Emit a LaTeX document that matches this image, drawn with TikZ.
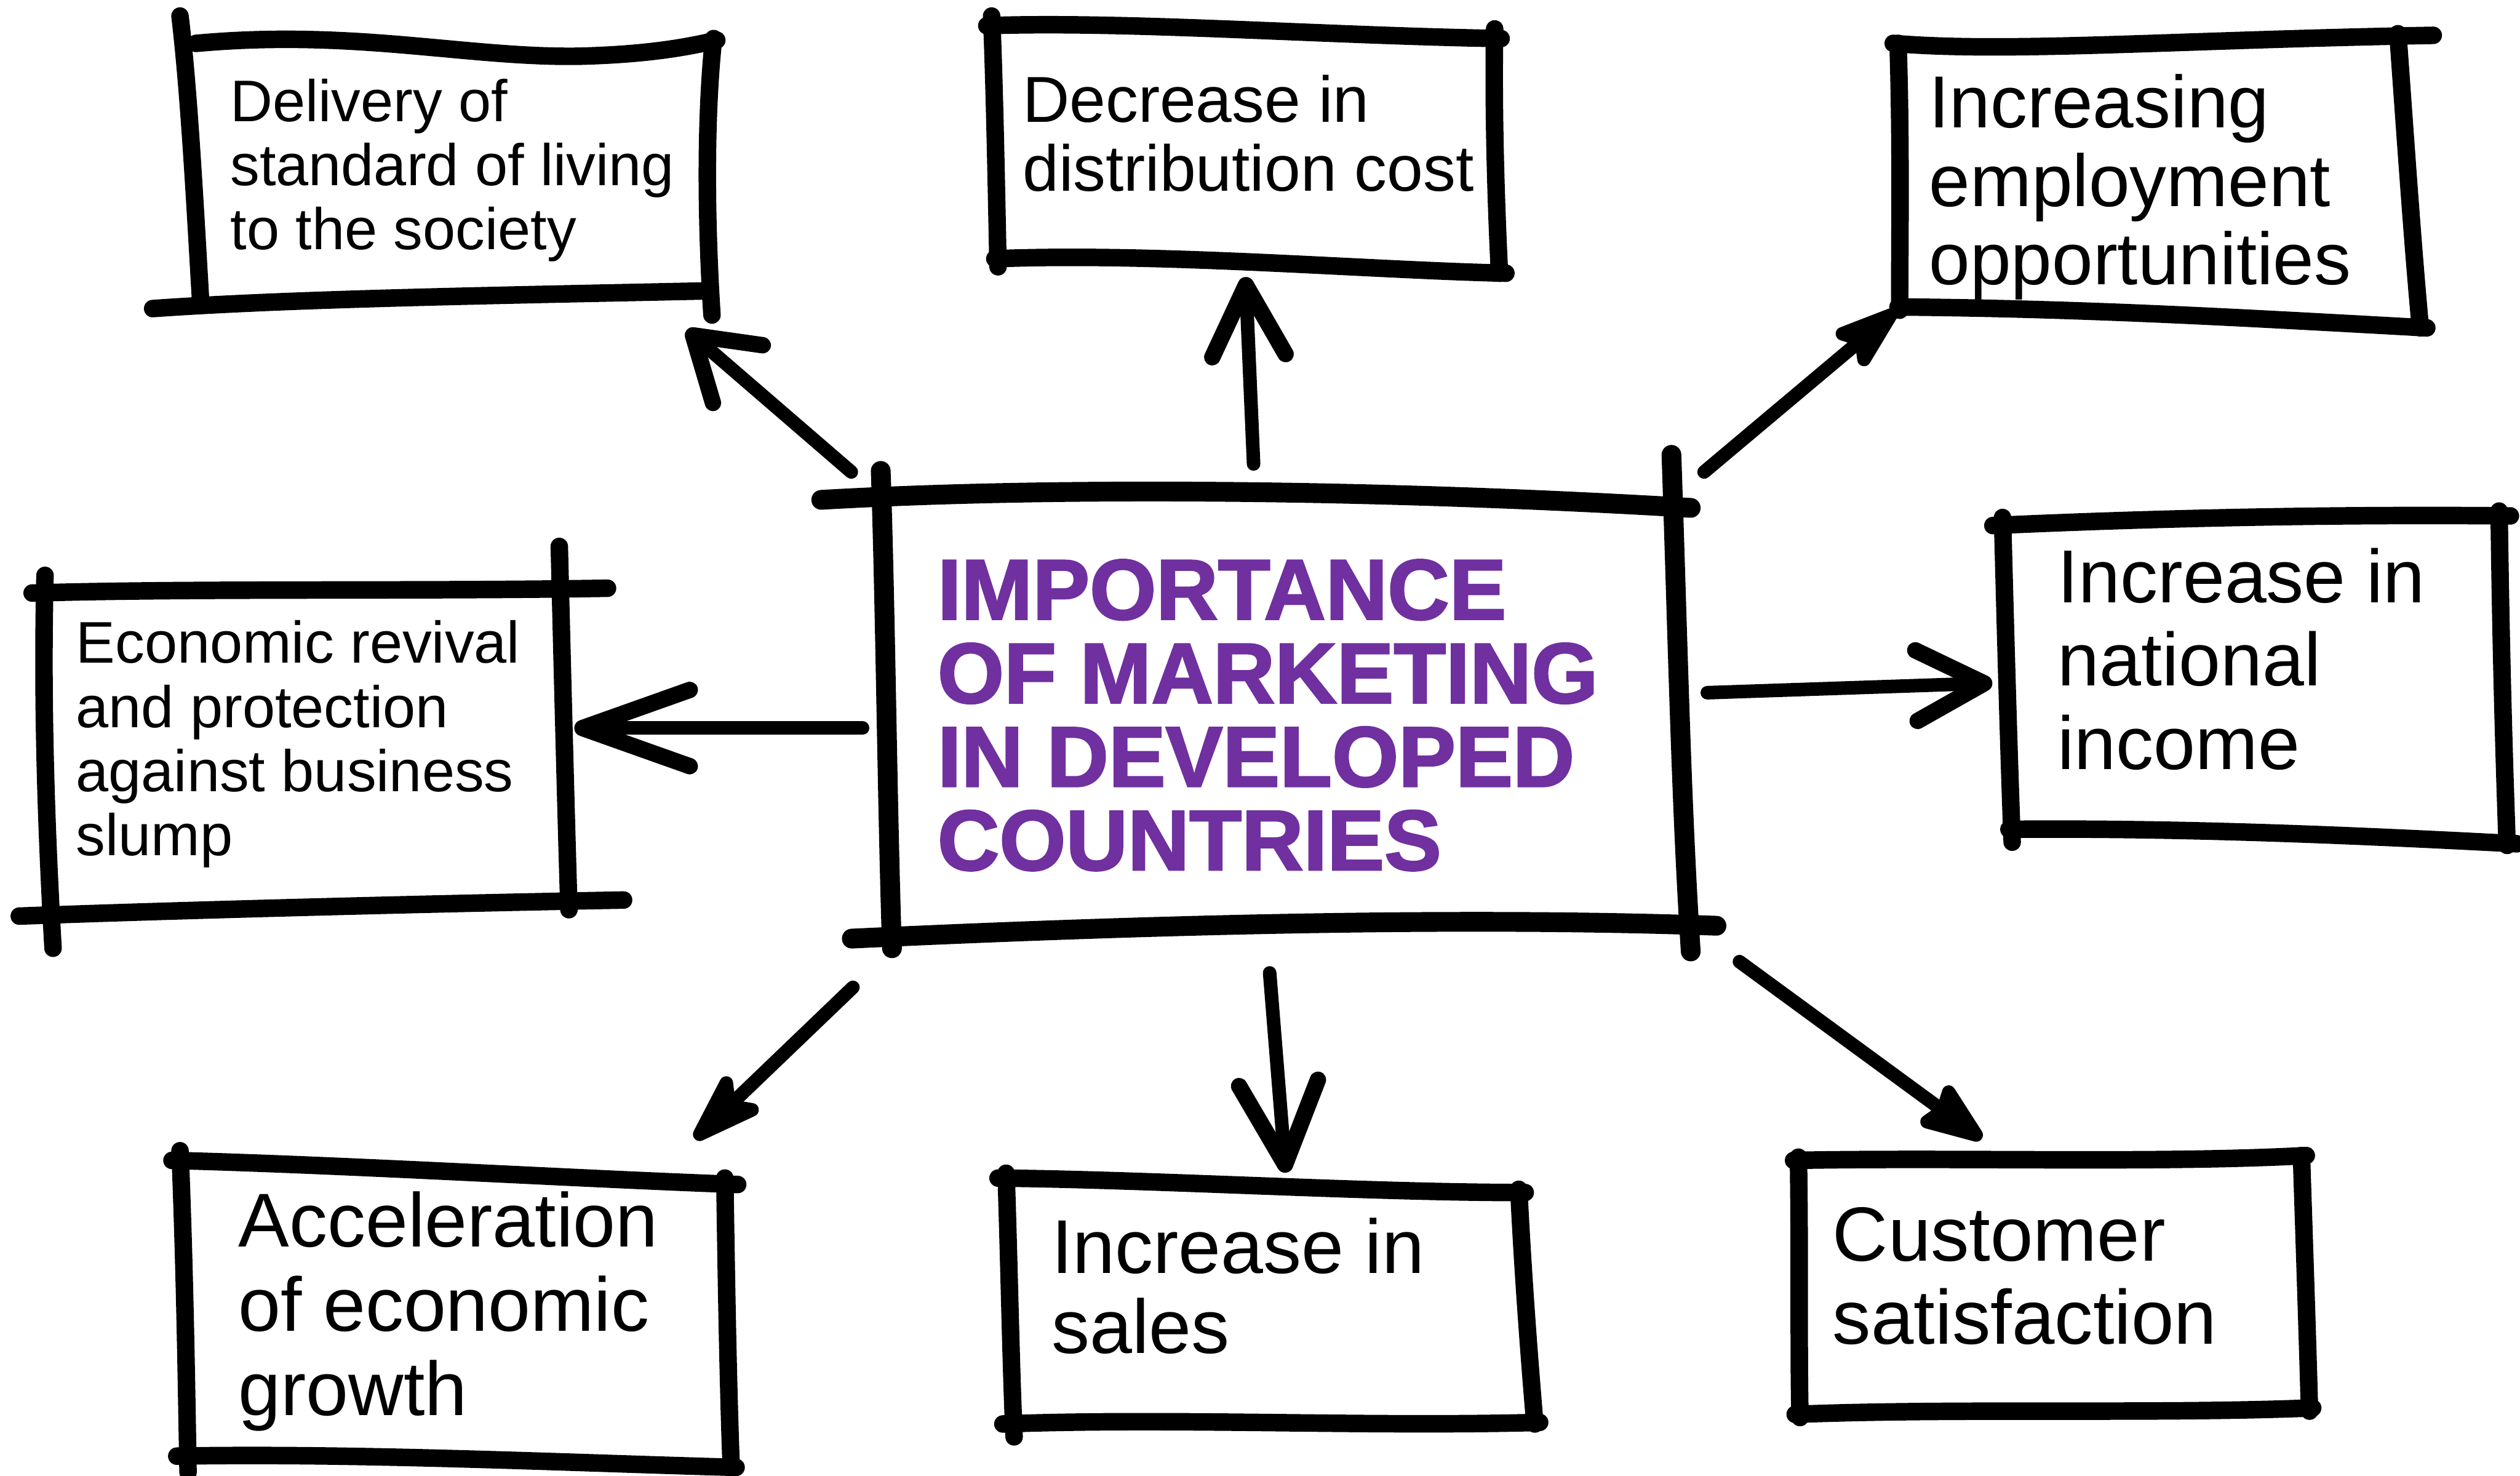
\documentclass[tikz,border=0pt]{standalone}
\usepackage{fontspec}
\setmainfont{Liberation Sans}
\newfontfamily\titlefont[FakeBold=2]{Liberation Sans Bold}
\usetikzlibrary{arrows.meta,calc}
\definecolor{titlepurple}{HTML}{7030A0}

\begin{document}
\begin{tikzpicture}[x=0.02cm,y=-0.02cm,
  pen/.style={line width=6.2pt,line cap=round,line join=round},
  cpen/.style={line width=7pt,line cap=round,line join=round},
  boxarea/.style={draw=none,rectangle,inner sep=0pt},
  txt/.style={inner sep=0pt,align=left,anchor=west,text=black},
  arr/.style={line width=4.8pt,line cap=round,line join=round}]

% canvas
\fill[white] (0,0) rectangle (1568,918);
\useasboundingbox (0,0) rectangle (1568,918);

% box areas
\node[boxarea,minimum width=6.36cm,minimum height=3.10cm] (b1) at (281,107.5) {};
\node[boxarea,minimum width=6.28cm,minimum height=3.00cm] (b2) at (776,92) {};
\node[boxarea,minimum width=6.48cm,minimum height=3.40cm] (b3) at (1342,113) {};
\node[boxarea,minimum width=6.48cm,minimum height=3.90cm] (b4) at (190,464.5) {};
\node[boxarea,minimum width=6.20cm,minimum height=3.92cm] (b5) at (1403,421) {};
\node[boxarea,minimum width=6.76cm,minimum height=3.58cm] (b6) at (284,816) {};
\node[boxarea,minimum width=6.40cm,minimum height=3.02cm] (b7) at (788,813) {};
\node[boxarea,minimum width=6.28cm,minimum height=3.16cm] (b8) at (1277,800) {};
\node[boxarea,minimum width=9.90cm,minimum height=5.36cm] (c) at (797,445) {};

% hand-drawn frames
% delivery of standard of living
\draw[pen] (112,10) .. controls (118,60) and (122,140) .. (125,190);
\draw[pen] (122,27) .. controls (220,18) and (290,36) .. (360,35) .. controls (400,34) and (425,30) .. (446,25);
\draw[pen] (444,24) .. controls (438,80) and (440,150) .. (443,196);
\draw[pen] (95,192) .. controls (180,186) and (300,184) .. (440,181);
% decrease in distribution cost
\draw[pen] (617,10) .. controls (619,60) and (620,120) .. (621,166);
\draw[pen] (614,16) .. controls (700,13) and (820,22) .. (934,24);
\draw[pen] (930,18) .. controls (929,70) and (931,130) .. (933,170);
\draw[pen] (619,161) .. controls (720,157) and (850,168) .. (937,170);
% increasing employment opportunities
\draw[pen] (1178,27) .. controls (1250,33) and (1350,25) .. (1514,22);
\draw[pen] (1181,27) .. controls (1183,90) and (1182,150) .. (1182,193);
\draw[pen] (1492,21) .. controls (1497,90) and (1501,150) .. (1506,204);
\draw[pen] (1181,191) .. controls (1300,192) and (1400,198) .. (1510,204);
% economic revival
\draw[pen] (28,358) .. controls (26,440) and (29,520) .. (33,590);
\draw[pen] (20,369) .. controls (120,366) and (260,368) .. (378,366);
\draw[pen] (348,340) .. controls (350,420) and (352,500) .. (354,566);
\draw[pen] (12,570) .. controls (120,566) and (280,562) .. (388,560);
% increase in national income
\draw[pen] (1246,322) .. controls (1248,400) and (1250,470) .. (1252,524);
\draw[pen] (1240,327) .. controls (1350,322) and (1460,320) .. (1562,321);
\draw[pen] (1555,318) .. controls (1556,400) and (1558,470) .. (1560,526);
\draw[pen] (1250,516) .. controls (1360,515) and (1470,520) .. (1566,525);
% acceleration of economic growth
\draw[pen] (112,716) .. controls (115,790) and (116,860) .. (117,916);
\draw[pen] (107,722) .. controls (220,725) and (350,733) .. (459,737);
\draw[pen] (451,733) .. controls (452,800) and (453,860) .. (455,914);
\draw[pen] (110,906) .. controls (220,904) and (350,910) .. (458,913);
% increase in sales
\draw[pen] (626,730) .. controls (628,790) and (629,850) .. (631,894);
\draw[pen] (621,733) .. controls (720,734) and (850,742) .. (949,742);
\draw[pen] (945,740) .. controls (948,800) and (952,850) .. (955,886);
\draw[pen] (624,886) .. controls (730,882) and (850,888) .. (958,885);
% customer satisfaction
\draw[pen] (1119,720) .. controls (1120,780) and (1119,840) .. (1120,882);
\draw[pen] (1116,722) .. controls (1220,720) and (1340,724) .. (1435,719);
\draw[pen] (1432,719) .. controls (1434,780) and (1436,840) .. (1437,878);
\draw[pen] (1117,880) .. controls (1220,876) and (1340,880) .. (1439,876);
% central frame
\draw[cpen] (548,293) .. controls (551,380) and (552,500) .. (555,590);
\draw[cpen] (511,311) .. controls (650,303) and (850,304) .. (1052,316);
\draw[cpen] (1040,283) .. controls (1044,400) and (1046,500) .. (1052,592);
\draw[cpen] (530,584) .. controls (700,576) and (900,570) .. (1068,576);

% texts
\node[txt,font=\fontsize{20.8}{22.7}\selectfont] (t1) at (143,106)
  {Delivery of\\standard of living\\to the society};
\node[txt,font=\fontsize{23}{24.4}\selectfont] (t2) at (636,83)
  {Decrease in\\distribution cost};
\node[txt,font=\fontsize{26.1}{27.8}\selectfont] (t3) at (1200,116.5)
  {Increasing\\employment\\opportunities};
\node[txt,font=\fontsize{20.8}{22.7}\selectfont] (t4) at (47,463)
  {Economic revival\\and protection\\against business\\slump};
\node[txt,font=\fontsize{26.6}{29.5}\selectfont] (t5) at (1280,410)
  {Increase in\\national\\income};
\node[txt,font=\fontsize{27}{29.8}\selectfont] (t6) at (148,816)
  {Acceleration\\of economic\\growth};
\node[txt,font=\fontsize{27}{28.3}\selectfont] (t7) at (654,800)
  {Increase in\\sales};
\node[txt,font=\fontsize{27.2}{29.5}\selectfont] (t8) at (1140,794)
  {Customer\\satisfaction};
\node[txt,text=titlepurple,font=\titlefont\fontsize{30.3}{29.6}\selectfont] (tc) at (583,445)
  {IMPORTANCE\\OF MARKETING\\IN DEVELOPED\\COUNTRIES};

% connectors
\draw[arr,-{Straight Barb[length=21pt,width=27pt,line width=5.8pt,round]}]
  ($(c.north west)+(-19.5,-17)$) -- ($(b1.south east)+(-13,20)$);
\draw[arr,-{Straight Barb[length=25pt,width=26pt,line width=5.8pt,round]}]
  ($(c.north)+(-17,-22)$) -- ($(b2.south)+(-1,5)$);
\draw[arr,-{Stealth[length=30pt,width=20pt,inset=6pt,round]}]
  ($(c.north east)+(15.5,-17)$) -- ($(b3.south west)+(0,-5)$);
\draw[arr,-{Straight Barb[length=38pt,width=27pt,line width=5.8pt,round]}]
  ($(c.west)+(-12.5,8)$) -- ($(b4.east)+(5,-11.5)$);
\draw[arr,-{Straight Barb[length=24pt,width=25pt,line width=5.8pt,round]}]
  ($(c.east)+(17.5,-14)$) -- ($(b5.west)+(-8,4)$);
\draw[arr,-{Stealth[length=33pt,width=22pt,inset=8pt,round]}]
  ($(c.south west)+(-18.5,35)$) -- ($(b6.north east)+(-21,-17.5)$);
\draw[arr,-{Straight Barb[length=29pt,width=28pt,line width=5.8pt,round]}]
  ($(c.south)+(-7,26)$) -- ($(b7.north)+(12,-7.5)$);
\draw[arr,-{Stealth[length=27pt,width=20pt,inset=3pt,round]}]
  ($(c.south east)+(37.5,19)$) -- ($(b8.north)+(-44,-12)$);

\end{tikzpicture}
\end{document}
